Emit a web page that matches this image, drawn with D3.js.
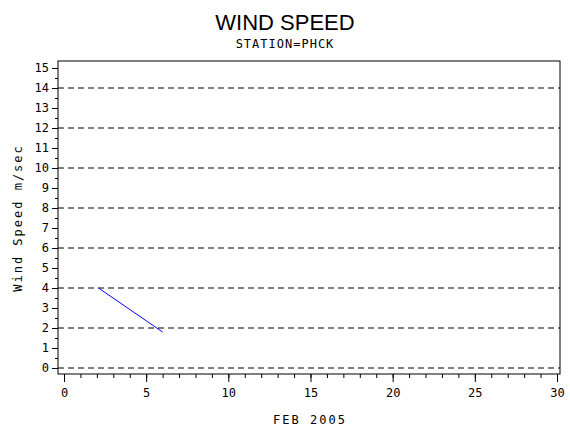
<!DOCTYPE html>
<html><head><script src="https://cdn.jsdelivr.net/npm/d3@7"></script>
<style>body{margin:0;background:#fff}text{font-family:"DejaVu Sans Mono",monospace}</style></head>
<body><svg id="chart" width="570" height="430"></svg>
<script>
var days = [2.1, 6];
var speeds = [4.0, 1.8];
var yTicks = d3.range(0, 16);
var xTicks = [0, 5, 10, 15, 20, 25, 30];
var gridVals = [0, 2, 4, 6, 8, 10, 12, 14];

var svg = d3.select('#chart');
var x = d3.scaleLinear().domain([0, 30]).range([64, 557]);
var y = d3.scaleLinear().domain([0, 15]).range([368, 68]);

svg.append('text').attr('x', 285).attr('y', 30).attr('text-anchor', 'middle')
  .style('font-family', 'Liberation Sans, Arial').style('font-size', '22px').text('WIND SPEED');
svg.append('text').attr('x', 285).attr('y', 48).attr('text-anchor', 'middle')
  .style('font-size', '12px').style('letter-spacing', '1px').text('STATION=PHCK');

// frame
svg.append('rect').attr('x', 58).attr('y', 61).attr('width', 502).attr('height', 313)
  .attr('fill', 'none').attr('stroke', '#000');

svg.selectAll('.grid').data(gridVals).enter().append('line')
  .attr('x1', 58).attr('x2', 560).attr('y1', d => y(d)).attr('y2', d => y(d))
  .attr('stroke', '#000').attr('stroke-dasharray', '6,4');

svg.append('g').attr('transform', 'translate(58,0)')
  .call(d3.axisLeft(y).tickValues(d3.range(0, 15.01, 0.5)).tickSize(3).tickFormat(''))
  .call(g => g.select('.domain').remove());
svg.append('g').attr('transform', 'translate(58,0)')
  .call(d3.axisLeft(y).tickValues(yTicks).tickSize(6).tickFormat(d3.format('d')))
  .call(g => g.select('.domain').remove())
  .selectAll('text').style('font-size', '12px').attr('font-family', 'DejaVu Sans Mono');

svg.append('g').attr('transform', 'translate(0,374)')
  .call(d3.axisBottom(x).tickValues(d3.range(0, 31)).tickSize(4).tickFormat(''))
  .call(g => g.select('.domain').remove());
svg.append('g').attr('transform', 'translate(0,374)')
  .call(d3.axisBottom(x).tickValues(xTicks).tickSize(8).tickPadding(6).tickFormat(d3.format('d')))
  .call(g => g.select('.domain').remove())
  .selectAll('text').style('font-size', '12px').attr('font-family', 'DejaVu Sans Mono');

svg.append('text').attr('x', 310).attr('y', 424).attr('text-anchor', 'middle')
  .style('font-size', '12px').style('letter-spacing', '2px').text('FEB 2005');
svg.append('text').attr('transform', 'translate(22,218) rotate(-90)').attr('text-anchor', 'middle')
  .style('font-size', '12px').style('letter-spacing', '2px').text('Wind Speed m/sec');

var line = d3.line().x(d => x(d[0])).y(d => y(d[1]));
svg.append('path').datum(days.map((d, i) => [d, speeds[i]]))
  .attr('d', line).attr('fill', 'none').attr('stroke', '#0000ff').attr('stroke-width', 1);
</script></body></html>
